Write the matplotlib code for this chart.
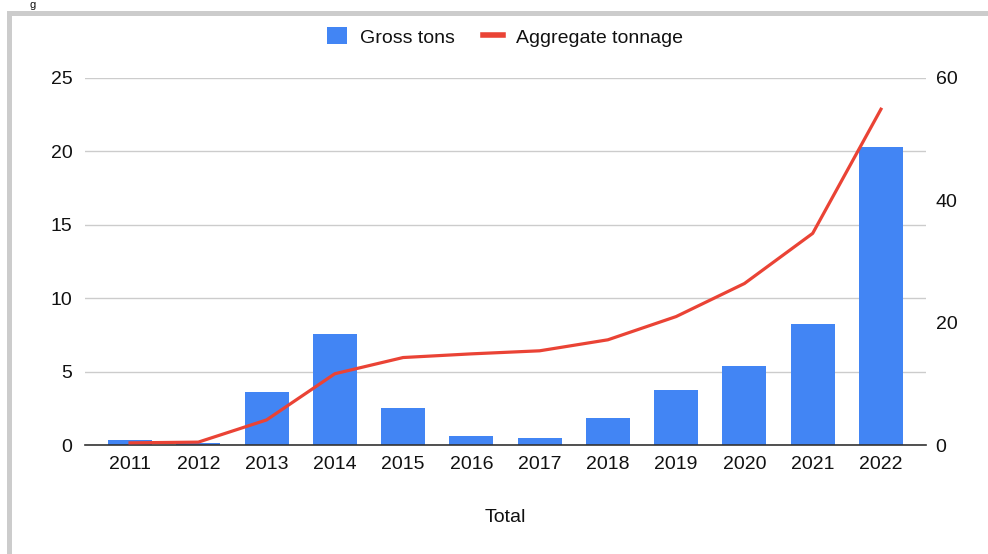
import matplotlib
matplotlib.use("Agg")
import matplotlib.pyplot as plt
from matplotlib.patches import Patch, Rectangle
from matplotlib.lines import Line2D

years = ["2011", "2012", "2013", "2014", "2015", "2016", "2017", "2018", "2019", "2020", "2021", "2022"]
gross_tons = [0.35, 0.12, 3.61, 7.54, 2.5, 0.6, 0.48, 1.82, 3.73, 5.4, 8.22, 20.28]
aggregate_tonnage = [0.35, 0.47, 4.1, 11.65, 14.3, 14.9, 15.4, 17.2, 21.0, 26.4, 34.6, 54.9]
left_ticks = [0, 5, 10, 15, 20, 25]
right_ticks = [0, 20, 40, 60]

plt.rcParams['font.family'] = ['Liberation Sans', 'DejaVu Sans']

BLUE = "#4285F4"
RED = "#EA4335"
GRID = "#cccccc"
TXT = "#111111"
FS = 14

fig = plt.figure(figsize=(9.88, 5.54), dpi=100)
ax = fig.add_axes([85/988, 1-445/554, (926-85)/988, (445-78)/554])
x = list(range(len(years)))
ax.bar(x, gross_tons, width=0.645, color=BLUE, zorder=2)
ax.set_xlim(-0.66, 11.66)
ax.set_ylim(0, 25)
ax.set_yticks(left_ticks)
ax.set_xticks(x)
ax.set_xticklabels(years)
ax.grid(axis='y', color=GRID, linewidth=1, zorder=0)
ax.set_axisbelow(True)
for s in ['top', 'right', 'left']:
    ax.spines[s].set_visible(False)
ax.spines['bottom'].set_color('#333333')
ax.spines['bottom'].set_linewidth(1.2)
ax.spines['bottom'].set_zorder(5)
ax.tick_params(axis='both', length=0, labelsize=FS, colors=TXT)
ax.tick_params(axis='y', pad=9)
ax.tick_params(axis='x', pad=8)
ax.set_xlabel("Total", fontsize=FS, labelpad=26, color=TXT)

ax2 = ax.twinx()
ax2.plot(x, aggregate_tonnage, color=RED, linewidth=2.3, zorder=3)
ax2.set_ylim(0, 60)
ax2.set_yticks(right_ticks)
for s in ['top', 'right', 'left', 'bottom']:
    ax2.spines[s].set_visible(False)
ax2.tick_params(axis='y', length=0, labelsize=FS, pad=7, colors=TXT)

handles = [Patch(facecolor=BLUE, edgecolor='none'),
           Line2D([0], [0], color=RED, linewidth=4)]
fig.legend(handles, ["Gross tons", "Aggregate tonnage"], loc='center',
           bbox_to_anchor=(505/988, 1-37/554), ncol=2, frameon=False,
           fontsize=FS, handlelength=1.03, handleheight=0.95,
           columnspacing=1.4, handletextpad=0.67, labelcolor=TXT)

# screenshot frame
fig.patches.append(Rectangle((7/988, 0), 5/988, 1-11/554, transform=fig.transFigure,
                             facecolor=GRID, edgecolor='none'))
fig.patches.append(Rectangle((7/988, 1-16/554), 1, 5/554, transform=fig.transFigure,
                             facecolor=GRID, edgecolor='none'))
fig.text(29/988, 1.0, "g", fontsize=8, va='top', ha='left', color=TXT)

fig.savefig("out.png", dpi=100)
